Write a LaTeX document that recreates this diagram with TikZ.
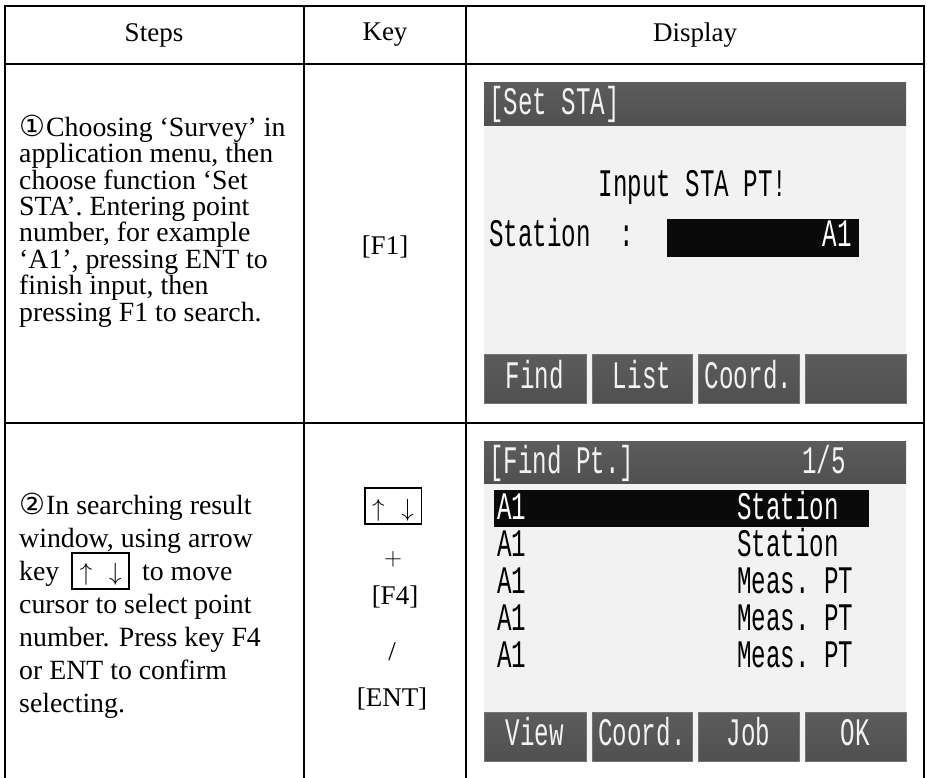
\documentclass[tikz,border=0pt]{standalone}
\usepackage{fontspec}
\setmainfont{Liberation Serif}
\newfontfamily\lcdfont[FakeStretch=0.62]{Liberation Mono}
\newfontfamily\symfont{DejaVu Sans}
\usetikzlibrary{positioning}

\definecolor{barcol}{HTML}{505050}
\definecolor{bartop}{HTML}{5C5C5C}
\definecolor{lcdbg}{HTML}{F2F2F2}
\definecolor{lcdtxt}{HTML}{F2F2F2}

\newcommand{\updownkey}{{\setlength{\fboxrule}{1.9pt}\setlength{\fboxsep}{0pt}%
  \fbox{\makebox[55pt]{\rule[-7.1pt]{0pt}{34.2pt}$\uparrow$\hspace{17pt}$\downarrow$}}}}
\newcommand{\circnum}[1]{{\symfont\fontsize{29}{29}\selectfont #1}\kern1pt}
\newcommand{\tightlines}{\fontsize{27.8}{26.4}\selectfont\lineskiplimit-30pt\relax}
\newcommand{\looselines}{\fontsize{27.8}{33}\selectfont\lineskiplimit-30pt\relax}

\tikzset{
  tbl/.style={line width=2pt},
  cell/.style={font=\fontsize{27}{26.4}\selectfont, inner sep=0pt},
  lcd/.style={font=\lcdfont\fontsize{39}{39}\selectfont, inner sep=0pt},
  bar/.style={top color=bartop, bottom color=barcol},
  softkey/.style={top color=bartop, bottom color=barcol, draw=black!55, line width=0.6pt},
}

\begin{document}
\begin{tikzpicture}[x=1pt, y=-1pt, >=stealth]
\useasboundingbox (0,0) rectangle (927,778);

% table
\draw[tbl] (5,778) -- (5,6) -- (924,6) -- (924,778);
\draw[tbl] (5,64) -- (924,64);
\draw[tbl] (5,423) -- (924,423);
\draw[tbl] (304,6) -- (304,778);
\draw[tbl] (466,6) -- (466,778);

\node[cell] (hsteps) at (154,35) {Steps};
\node[cell] (hkey) at (385,35) {Key};
\node[cell] (hdisp) at (695,35) {Display};

% step 1
\node[cell, anchor=west, align=left, font=\tightlines] (step1) at (19,221)
  {\circnum{①}Choosing ‘Survey’ in\\
   application menu, then\\
   choose function ‘Set\\
   STA’. Entering point\\
   number, for example\\
   ‘A1’, pressing ENT to\\
   finish input, then\\
   pressing F1 to search.};
\node[cell] (key1) at (385,247) {[F1]};

% screen 1
\fill[lcdbg] (484,83) rectangle (906,403);
\fill[bar] (484,83) rectangle (906,126);
\node[lcd, anchor=base west, text=lcdtxt] (s1title) at (489,115) {[Set STA]};
\node[lcd, anchor=base] (s1msg) at (693,197) {Input STA PT!};
\node[lcd, anchor=base west] (s1stn) at (489,247) {Station~~:};
\fill[black!96] (667,219) rectangle (859,257);
\node[lcd, anchor=base east, text=white] (s1val) at (852,247) {A1};
\foreach \xa/\xb/\lab [count=\i] in {484/586/Find, 592/692/List, 698/799/Coord., 805/906/} {
  \draw[softkey] (\xa,354) rectangle (\xb,403);
  \node[lcd, anchor=base, text=lcdtxt] (s1key\i) at ({(\xa+\xb)/2},388) {\lab};
}

% step 2
\node[cell, anchor=west, align=left, font=\looselines] (step2) at (19,606)
  {\circnum{②}In searching result\\
   window, using arrow\\
   key\hspace{12pt}\updownkey\hspace{12pt}to move\\
   cursor to select point\\
   number. Press key F4\\
   or ENT to confirm\\
   selecting.};
\node[cell] (key2a) at (393,506) {\updownkey};
\node[cell] (key2b) at (393,559) {$+$};
\node[cell] (key2c) at (395,597) {[F4]};
\node[cell] (key2d) at (392,652) {/};
\node[cell] (key2e) at (392,699) {[ENT]};

% screen 2
\fill[lcdbg] (484,441) rectangle (906,761);
\fill[bar] (484,441) rectangle (906,483);
\node[lcd, anchor=base west, text=lcdtxt] (s2title) at (489,473) {[Find Pt.]};
\node[lcd, anchor=base west, text=lcdtxt] (s2page) at (802,473) {1/5};
\fill[black!96] (494,490) rectangle (869,527);
\node[lcd, anchor=base west, text=white] (r1a) at (497,519) {A1};
\node[lcd, anchor=base west, text=white] (r1b) at (737,519) {Station};
\node[lcd, anchor=base west] (r2a) at (497,556) {A1};
\node[lcd, anchor=base west] (r2b) at (737,556) {Station};
\node[lcd, anchor=base west] (r3a) at (497,593) {A1};
\node[lcd, anchor=base west] (r3b) at (737,593) {Meas.~PT};
\node[lcd, anchor=base west] (r4a) at (497,630) {A1};
\node[lcd, anchor=base west] (r4b) at (737,630) {Meas.~PT};
\node[lcd, anchor=base west] (r5a) at (497,667) {A1};
\node[lcd, anchor=base west] (r5b) at (737,667) {Meas.~PT};
\foreach \xa/\xb/\lab [count=\i] in {484/586/View, 592/692/Coord., 698/799/Job, 805/906/OK} {
  \draw[softkey] (\xa,712) rectangle (\xb,761);
  \node[lcd, anchor=base, text=lcdtxt] (s2key\i) at ({(\xa+\xb)/2},745) {\lab};
}
\end{tikzpicture}
\end{document}
